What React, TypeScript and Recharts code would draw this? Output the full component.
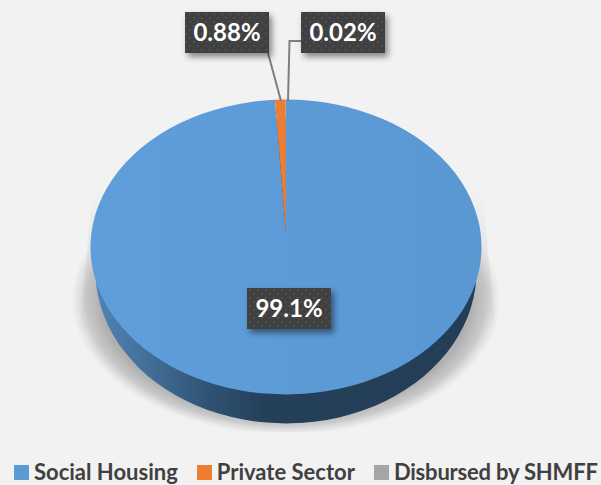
import { PieChart, Pie, Legend } from 'recharts';

const categories = ['Social Housing', 'Private Sector', 'Disbursed by SHMFF'];
const shares = [99.1, 0.88, 0.02];
const colors = ['#5b9bd5', '#ed7d31', '#a5a5a5'];
const labelTexts = ['99.1%', '0.88%', '0.02%'];

const data = categories.map((name, i) => ({ name, value: shares[i], fill: colors[i], text: labelTexts[i] }));

// the picture is a tilted 3D pie, so the circle from Pie gets squashed in the shapes below
const TILT = 147 / 195;
const FACE_CY = 247;
const APEX_CY = 232;

const labelBoxes = [
  { x: 247, y: 288 },
  { x: 185, y: 12 },
  { x: 301, y: 12 },
];
const leaders = ['', 'M268 53 L281 101', 'M288 101 L289.5 41 L301 41'];

function ellipseSector(cx: number, apexY: number, cy: number, rx: number, ry: number, start: number, end: number) {
  const a0 = (start * Math.PI) / 180;
  const a1 = (end * Math.PI) / 180;
  const x0 = cx + rx * Math.cos(a0);
  const y0 = cy - ry * Math.sin(a0);
  const x1 = cx + rx * Math.cos(a1);
  const y1 = cy - ry * Math.sin(a1);
  const large = Math.abs(end - start) > 180 ? 1 : 0;
  const sweep = end < start ? 1 : 0;
  return `M${cx} ${apexY} L${x0} ${y0} A${rx} ${ry} 0 ${large} ${sweep} ${x1} ${y1} Z`;
}

function FaceShape(props: any) {
  const { cx, outerRadius, startAngle, endAngle, fill, name } = props;
  const paint = name === categories[0] ? 'url(#faceFill)' : fill;
  return <path d={ellipseSector(cx, APEX_CY, FACE_CY, outerRadius, outerRadius * TILT, startAngle, endAngle)} fill={paint} />;
}

function WallShape(props: any) {
  const { cx, outerRadius, startAngle, endAngle, name } = props;
  const isFirst = name === categories[0];
  return (
    <g>
      {isFirst && (
        <g clipPath="url(#shadowClip)">
          <path d="M92 190 L482 190 L496 332 L80 332 Z" fill="url(#sideShadow)" />
          <ellipse cx={cx} cy={300} rx={215} ry={135} fill="url(#groundShadow)" />
        </g>
      )}
      <path d={ellipseSector(cx, 250, 271, outerRadius - 5, (outerRadius - 5) * (152 / 190), startAngle, endAngle)} fill="url(#wallFill)" />
    </g>
  );
}

function BoxLabel(props: any) {
  const { index, payload } = props;
  const box = labelBoxes[index];
  const text = payload?.text ?? labelTexts[index];
  return (
    <g>
      {leaders[index] && <path d={leaders[index]} fill="none" stroke="#7f7f7f" strokeWidth={2} />}
      <rect x={box.x} y={box.y} width={84} height={41} fill="#404040" filter="url(#boxShadow)" />
      <rect x={box.x} y={box.y} width={84} height={41} fill="url(#dots)" />
      <text
        x={box.x + 42}
        y={box.y + 29}
        textAnchor="middle"
        fontFamily="Lato, 'Open Sans', sans-serif"
        fontWeight={700}
        fontSize={24}
        fill="#ffffff"
      >
        {text}
      </text>
    </g>
  );
}

function LegendRow({ payload }: any) {
  const items = categories.map((name) => (payload || []).find((p: any) => p.value === name) || { value: name });
  return (
    <div style={{ display: 'flex', alignItems: 'center', fontFamily: "Lato, 'Open Sans', sans-serif", fontWeight: 700, fontSize: 22, lineHeight: '26px', color: '#404040', whiteSpace: 'nowrap' }}>
      {items.map((item: any, i: number) => (
        <span key={item.value} style={{ display: 'flex', alignItems: 'center', marginRight: 19 }}>
          <span style={{ width: 15, height: 15, background: colors[i], marginRight: 5 }} />
          <span style={{ letterSpacing: i === 2 ? -0.2 : 0 }}>{item.value}</span>
        </span>
      ))}
    </div>
  );
}

export default function App() {
  return (
    <div style={{ position: 'absolute', left: 0, top: 0, width: 601, height: 485, background: '#f2f2f2', overflow: 'hidden' }}>
      <PieChart width={601} height={485} margin={{ top: 0, right: 0, bottom: 0, left: 0 }}>
        <defs>
          <linearGradient id="faceFill" x1="0" y1="0" x2="1" y2="0">
            <stop offset="0" stopColor="#5f9edb" />
            <stop offset="1" stopColor="#5a98d3" />
          </linearGradient>
          <linearGradient id="wallFill" x1="0" y1="0" x2="1" y2="0">
            <stop offset="0" stopColor="#5184b3" />
            <stop offset="0.12" stopColor="#44729c" />
            <stop offset="0.3" stopColor="#2f5273" />
            <stop offset="0.45" stopColor="#243f58" />
            <stop offset="1" stopColor="#233e56" />
          </linearGradient>
          <linearGradient id="sideShadow" x1="0" y1="0" x2="0" y2="1">
            <stop offset="0" stopColor="#c4c4c4" stopOpacity="0" />
            <stop offset="0.7" stopColor="#c4c4c4" stopOpacity="0.4" />
            <stop offset="1" stopColor="#c4c4c4" stopOpacity="0" />
          </linearGradient>
          <radialGradient id="groundShadow" cx="0.5" cy="0.5" r="0.5">
            <stop offset="0.86" stopColor="#b0b0b0" stopOpacity="1" />
            <stop offset="0.93" stopColor="#bcbcbc" stopOpacity="0.75" />
            <stop offset="1" stopColor="#d0d0d0" stopOpacity="0" />
          </radialGradient>
          <filter id="boxShadow" x="-20%" y="-30%" width="140%" height="170%">
            <feDropShadow dx="3" dy="4" stdDeviation="3" floodColor="#000000" floodOpacity="0.45" />
          </filter>
          <clipPath id="shadowClip">
            <rect x={70} y={150} width={440} height={282} />
          </clipPath>
          <pattern id="dots" width={8} height={8} patternUnits="userSpaceOnUse">
            <rect x={1} y={1} width={1.6} height={1.6} fill="#565656" />
            <rect x={5} y={5} width={1.6} height={1.6} fill="#565656" />
          </pattern>
        </defs>
        <Pie
          data={data}
          dataKey="value"
          nameKey="name"
          cx={286}
          cy={FACE_CY}
          outerRadius={195.5}
          startAngle={90}
          endAngle={-270}
          legendType="none"
          shape={WallShape}
          stroke="none"
          isAnimationActive={false}
        />
        <Pie
          data={data}
          dataKey="value"
          nameKey="name"
          cx={286}
          cy={FACE_CY}
          outerRadius={195.5}
          startAngle={90}
          endAngle={-270}
          shape={FaceShape}
          stroke="none"
          label={BoxLabel}
          labelLine={false}
          isAnimationActive={false}
        />
        <Legend content={LegendRow} wrapperStyle={{ left: 14, bottom: 0, top: 459, width: 601 }} />
      </PieChart>
    </div>
  );
}
